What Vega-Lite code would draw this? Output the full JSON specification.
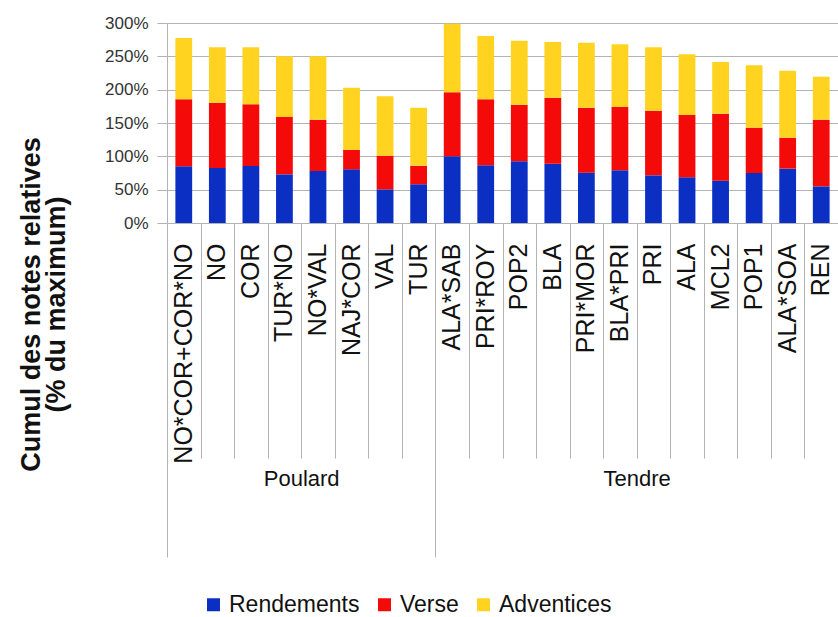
{
  "$schema": "https://vega.github.io/schema/vega-lite/v6.json",
  "width": 671,
  "height": 200,
  "autosize": {"type": "none"},
  "padding": {"left": 167, "top": 23, "right": 0, "bottom": 394},
  "background": "white",
  "config": {
    "font": "Liberation Sans",
    "view": {"stroke": null},
    "axis": {"labelFont": "Liberation Sans", "titleFont": "Liberation Sans", "labelColor": "#222222", "titleColor": "#111111"}
  },
  "data": {
    "values": [
      {"cat": "NO*COR+COR*NO", "group": "Poulard", "type": "Rendements", "value": 85},
      {"cat": "NO*COR+COR*NO", "group": "Poulard", "type": "Verse", "value": 100.5},
      {"cat": "NO*COR+COR*NO", "group": "Poulard", "type": "Adventices", "value": 92},
      {"cat": "NO", "group": "Poulard", "type": "Rendements", "value": 82.5},
      {"cat": "NO", "group": "Poulard", "type": "Verse", "value": 98},
      {"cat": "NO", "group": "Poulard", "type": "Adventices", "value": 83},
      {"cat": "COR", "group": "Poulard", "type": "Rendements", "value": 85.5},
      {"cat": "COR", "group": "Poulard", "type": "Verse", "value": 92.5},
      {"cat": "COR", "group": "Poulard", "type": "Adventices", "value": 85.5},
      {"cat": "TUR*NO", "group": "Poulard", "type": "Rendements", "value": 73},
      {"cat": "TUR*NO", "group": "Poulard", "type": "Verse", "value": 86},
      {"cat": "TUR*NO", "group": "Poulard", "type": "Adventices", "value": 91},
      {"cat": "NO*VAL", "group": "Poulard", "type": "Rendements", "value": 78},
      {"cat": "NO*VAL", "group": "Poulard", "type": "Verse", "value": 77},
      {"cat": "NO*VAL", "group": "Poulard", "type": "Adventices", "value": 95},
      {"cat": "NAJ*COR", "group": "Poulard", "type": "Rendements", "value": 80.5},
      {"cat": "NAJ*COR", "group": "Poulard", "type": "Verse", "value": 29},
      {"cat": "NAJ*COR", "group": "Poulard", "type": "Adventices", "value": 93.5},
      {"cat": "VAL", "group": "Poulard", "type": "Rendements", "value": 50.5},
      {"cat": "VAL", "group": "Poulard", "type": "Verse", "value": 50.5},
      {"cat": "VAL", "group": "Poulard", "type": "Adventices", "value": 89},
      {"cat": "TUR", "group": "Poulard", "type": "Rendements", "value": 58},
      {"cat": "TUR", "group": "Poulard", "type": "Verse", "value": 28},
      {"cat": "TUR", "group": "Poulard", "type": "Adventices", "value": 87},
      {"cat": "ALA*SAB", "group": "Tendre", "type": "Rendements", "value": 100},
      {"cat": "ALA*SAB", "group": "Tendre", "type": "Verse", "value": 96},
      {"cat": "ALA*SAB", "group": "Tendre", "type": "Adventices", "value": 103},
      {"cat": "PRI*ROY", "group": "Tendre", "type": "Rendements", "value": 86.5},
      {"cat": "PRI*ROY", "group": "Tendre", "type": "Verse", "value": 99},
      {"cat": "PRI*ROY", "group": "Tendre", "type": "Adventices", "value": 95},
      {"cat": "POP2", "group": "Tendre", "type": "Rendements", "value": 92.5},
      {"cat": "POP2", "group": "Tendre", "type": "Verse", "value": 85},
      {"cat": "POP2", "group": "Tendre", "type": "Adventices", "value": 96},
      {"cat": "BLA", "group": "Tendre", "type": "Rendements", "value": 89},
      {"cat": "BLA", "group": "Tendre", "type": "Verse", "value": 99},
      {"cat": "BLA", "group": "Tendre", "type": "Adventices", "value": 83.5},
      {"cat": "PRI*MOR", "group": "Tendre", "type": "Rendements", "value": 75.5},
      {"cat": "PRI*MOR", "group": "Tendre", "type": "Verse", "value": 97.5},
      {"cat": "PRI*MOR", "group": "Tendre", "type": "Adventices", "value": 97.5},
      {"cat": "BLA*PRI", "group": "Tendre", "type": "Rendements", "value": 79},
      {"cat": "BLA*PRI", "group": "Tendre", "type": "Verse", "value": 95},
      {"cat": "BLA*PRI", "group": "Tendre", "type": "Adventices", "value": 94},
      {"cat": "PRI", "group": "Tendre", "type": "Rendements", "value": 71.5},
      {"cat": "PRI", "group": "Tendre", "type": "Verse", "value": 97},
      {"cat": "PRI", "group": "Tendre", "type": "Adventices", "value": 95},
      {"cat": "ALA", "group": "Tendre", "type": "Rendements", "value": 68.5},
      {"cat": "ALA", "group": "Tendre", "type": "Verse", "value": 93.5},
      {"cat": "ALA", "group": "Tendre", "type": "Adventices", "value": 91},
      {"cat": "MCL2", "group": "Tendre", "type": "Rendements", "value": 63.5},
      {"cat": "MCL2", "group": "Tendre", "type": "Verse", "value": 100.5},
      {"cat": "MCL2", "group": "Tendre", "type": "Adventices", "value": 77.5},
      {"cat": "POP1", "group": "Tendre", "type": "Rendements", "value": 75},
      {"cat": "POP1", "group": "Tendre", "type": "Verse", "value": 68},
      {"cat": "POP1", "group": "Tendre", "type": "Adventices", "value": 93.5},
      {"cat": "ALA*SOA", "group": "Tendre", "type": "Rendements", "value": 81.5},
      {"cat": "ALA*SOA", "group": "Tendre", "type": "Verse", "value": 46.5},
      {"cat": "ALA*SOA", "group": "Tendre", "type": "Adventices", "value": 100.5},
      {"cat": "REN", "group": "Tendre", "type": "Rendements", "value": 55},
      {"cat": "REN", "group": "Tendre", "type": "Verse", "value": 100},
      {"cat": "REN", "group": "Tendre", "type": "Adventices", "value": 64.5}
    ]
  },
  "resolve": {"scale": {"x": "independent"}, "axis": {"x": "independent"}},
  "layer": [
    {
      "transform": [{"calculate": "indexof(['Rendements','Verse','Adventices'], datum.type)", "as": "stackorder"}],
      "mark": {"type": "bar"},
      "encoding": {
        "x": {
          "field": "cat", "type": "nominal", "sort": null,
          "scale": {"paddingInner": 0.5, "paddingOuter": 0.25},
          "axis": {
            "orient": "bottom", "title": null, "domain": false, "ticks": false,
            "labelAngle": 270, "labelPadding": 20, "labelFontSize": 25, "labelLimit": 400,
            "labelColor": "#111111", "labelOverlap": false, "labelBound": false
          }
        },
        "y": {
          "field": "value", "type": "quantitative", "stack": "zero",
          "scale": {"domain": [0, 300], "nice": false},
          "axis": {
            "title": ["Cumul des notes relatives", "(% du maximum)"],
            "titleFontSize": 27, "titleFontWeight": "bold", "titleLineHeight": 25,
            "titleAngle": 270, "titleX": -122, "titleY": 281, "titleBaseline": "bottom", "titleAlign": "center",
            "values": [0, 50, 100, 150, 200, 250, 300],
            "labelExpr": "datum.value + '%'",
            "labelFontSize": 17, "labelColor": "#333333", "labelPadding": 9,
            "tickSize": 10, "tickColor": "#b3b3b3",
            "domainColor": "#b3b3b3", "grid": true, "gridColor": "#b3b3b3"
          }
        },
        "color": {
          "field": "type", "type": "nominal",
          "scale": {"domain": ["Rendements", "Verse", "Adventices"], "range": ["#0b2fc3", "#f50a0a", "#ffd320"]},
          "legend": {
            "title": null, "orient": "none", "direction": "horizontal",
            "legendX": 35, "legendY": 570,
            "symbolType": "square", "symbolSize": 169, "symbolStrokeWidth": 0,
            "labelFontSize": 23, "labelColor": "#111111", "labelOffset": 4, "columnPadding": 13, "labelLimit": 400
          }
        },
        "order": {"field": "stackorder", "type": "quantitative", "sort": "ascending"}
      }
    },
    {
      "mark": {"type": "point", "opacity": 0},
      "encoding": {
        "x": {
          "datum": 0, "type": "quantitative",
          "scale": {"domain": [0, 20], "nice": false, "zero": false},
          "axis": {
            "orient": "bottom", "title": null, "domain": false, "grid": false,
            "values": [0, 1, 2, 3, 4, 5, 6, 7, 8, 9, 10, 11, 12, 13, 14, 15, 16, 17, 18, 19, 20],
            "tickSize": {"condition": {"test": "datum.value == 0 || datum.value == 8 || datum.value == 20", "value": 334}, "value": 235},
            "tickColor": "#b3b3b3", "tickWidth": 1,
            "labels": false
          }
        }
      }
    },
    {
      "mark": {"type": "point", "opacity": 0},
      "encoding": {
        "x": {
          "datum": 0, "type": "quantitative",
          "scale": {"domain": [0, 20], "nice": false, "zero": false},
          "axis": {
            "orient": "bottom", "title": null, "domain": false, "grid": false, "ticks": false,
            "values": [4, 14],
            "labelExpr": "datum.value == 4 ? 'Poulard' : 'Tendre'",
            "labelPadding": 245, "labelFontSize": 22, "labelColor": "#111111",
            "labelAngle": 0, "labelFlush": false, "labelOverlap": false, "labelBound": false
          }
        }
      }
    }
  ]
}
